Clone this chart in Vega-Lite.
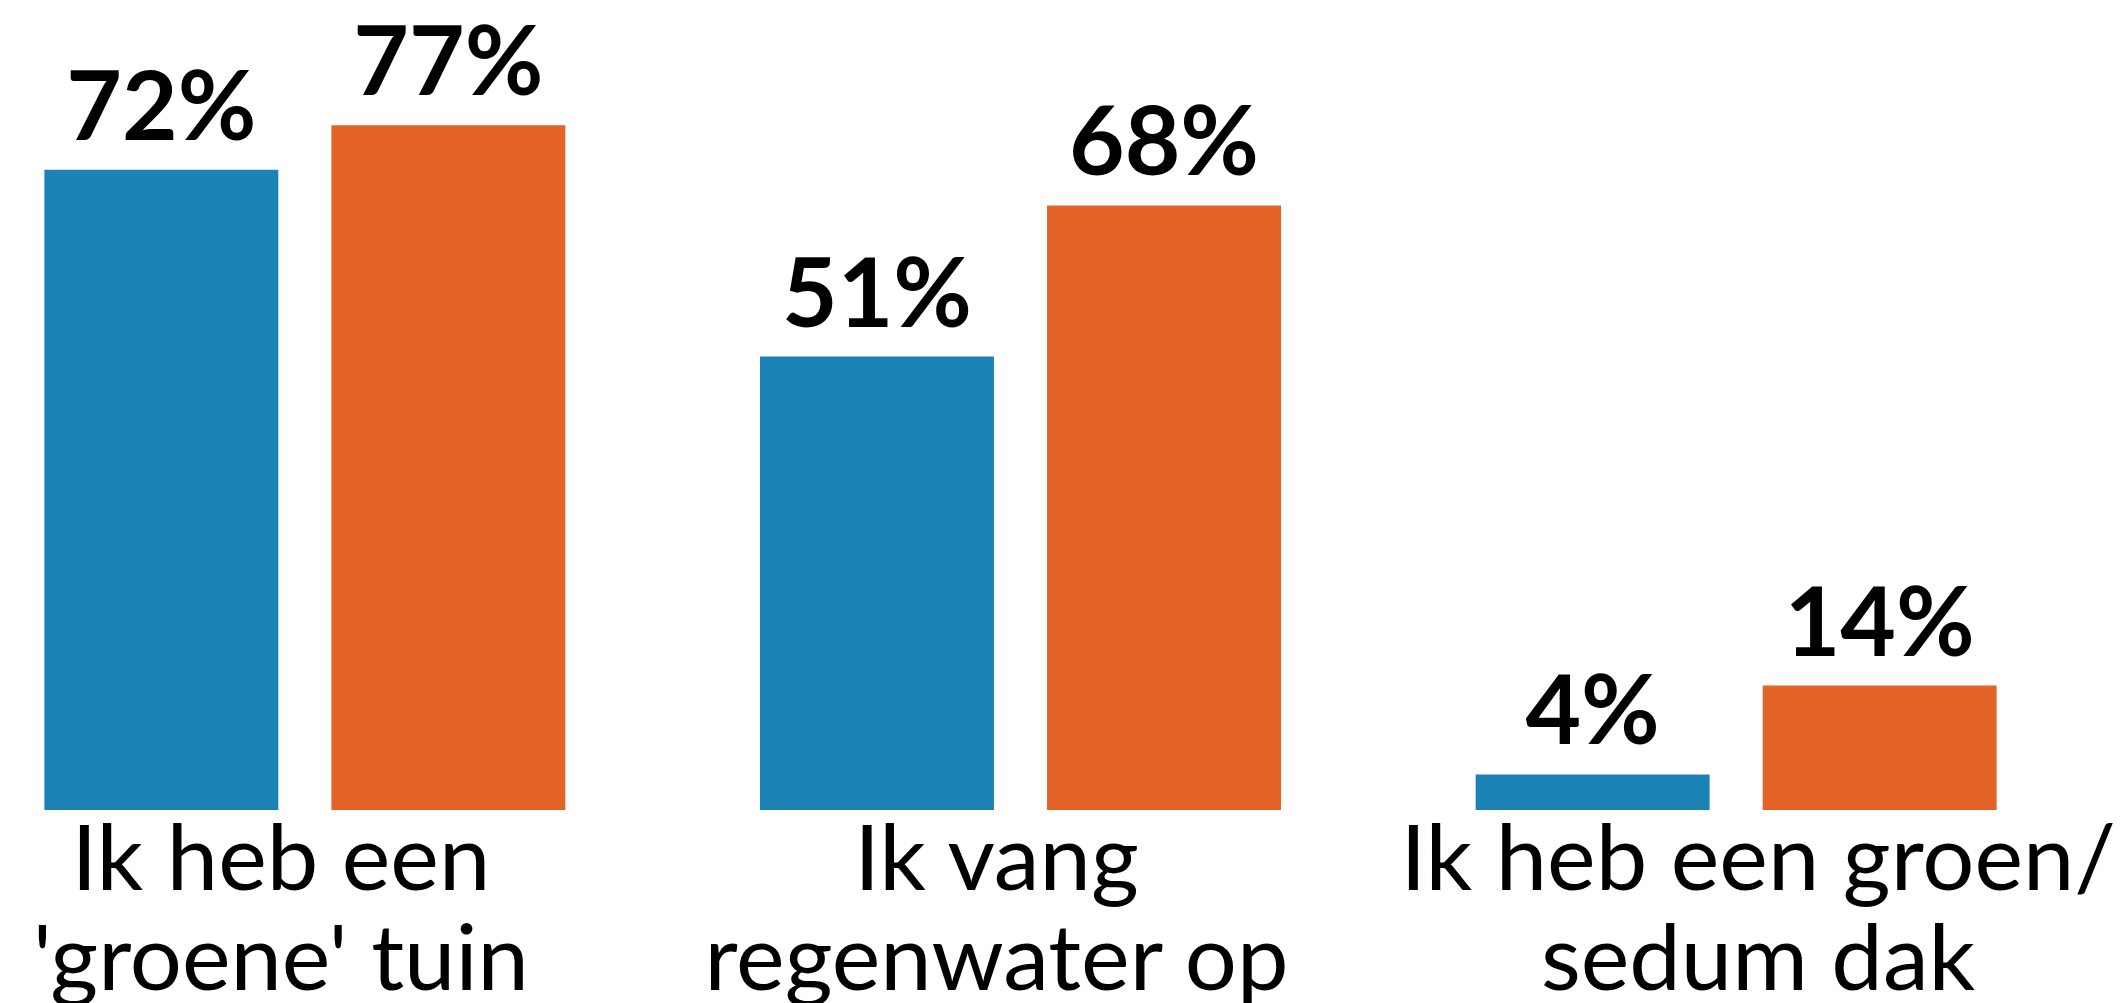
{
  "$schema": "https://vega.github.io/schema/vega-lite/v6.json",
  "autosize": "none",
  "width": 2041,
  "height": 810,
  "padding": {"left": 0, "top": 0, "right": 81, "bottom": 193},
  "background": "white",
  "config": {"view": {"stroke": null}, "font": "Lato"},
  "data": {
    "values": [
      {"categorie": "Ik heb een\n'groene' tuin", "meting": "eerste", "waarde": 0.72},
      {"categorie": "Ik heb een\n'groene' tuin", "meting": "tweede", "waarde": 0.77},
      {"categorie": "Ik vang\nregenwater op", "meting": "eerste", "waarde": 0.51},
      {"categorie": "Ik vang\nregenwater op", "meting": "tweede", "waarde": 0.68},
      {"categorie": "Ik heb een groen/\nsedum dak", "meting": "eerste", "waarde": 0.04},
      {"categorie": "Ik heb een groen/\nsedum dak", "meting": "tweede", "waarde": 0.14}
    ]
  },
  "encoding": {
    "x": {
      "field": "categorie",
      "type": "nominal",
      "sort": null,
      "scale": {"paddingInner": 0.272, "paddingOuter": 0.062},
      "axis": {
        "title": null,
        "domain": false,
        "ticks": false,
        "labelAngle": 0,
        "labelFont": "Lato",
        "labelFontSize": 92,
        "labelColor": "#000000",
        "labelLineHeight": 100,
        "labelPadding": 6,
        "labelBaseline": "top",
        "labelLimit": 0,
        "labelOverlap": false,
        "labelOffset": {"condition": {"test": "indexof(datum.value, 'sedum') >= 0", "value": 22}, "value": -24},
        "labelExpr": "split(datum.value, '\\n')"
      }
    },
    "xOffset": {
      "field": "meting",
      "type": "nominal",
      "scale": {"paddingInner": 0.185, "paddingOuter": 0}
    },
    "y": {
      "field": "waarde",
      "type": "quantitative",
      "scale": {"domain": [0, 0.911]},
      "axis": null
    }
  },
  "layer": [
    {
      "mark": {"type": "bar"},
      "encoding": {
        "color": {
          "field": "meting",
          "type": "nominal",
          "scale": {"domain": ["eerste", "tweede"], "range": ["#1a82b5", "#e26325"]},
          "legend": null
        }
      }
    },
    {
      "mark": {"type": "text", "font": "Lato", "fontWeight": "bold", "fontSize": 96, "color": "#000000", "baseline": "alphabetic", "dy": -30},
      "encoding": {
        "text": {"field": "waarde", "type": "quantitative", "format": ".0%"}
      }
    }
  ]
}
